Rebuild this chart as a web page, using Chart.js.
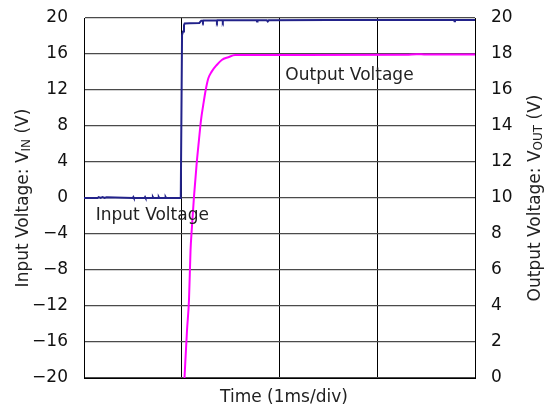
<!DOCTYPE html>
<html>
<head>
<meta charset="utf-8">
<script src="https://cdn.jsdelivr.net/npm/chart.js@4.4.1/dist/chart.umd.min.js"></script>
<style>
html,body{margin:0;padding:0;background:#fff;}
#wrap{width:550px;height:415px;position:relative;}
</style>
</head>
<body>
<div id="wrap"><canvas id="c" width="550" height="415"></canvas></div>
<script>
// ---- Data (time in ms, voltage in V) ----
const inputTime    = [0, 0.14, 0.15, 0.17, 0.19, 0.21, 0.23, 0.5, 0.505, 0.51, 0.62, 0.625, 0.63, 0.70, 0.705, 0.71, 0.76, 0.765, 0.77, 0.83, 0.835, 0.84, 0.88, 0.885, 0.89, 0.99, 1.003, 1.013, 1.023, 1.03, 1.084, 1.18, 1.20, 1.212, 1.217, 1.222, 1.355, 1.36, 1.365, 1.415, 1.42, 1.425, 1.765, 1.77, 1.775, 1.87, 1.88, 1.89, 2.5, 3.785, 3.79, 3.795, 4.0];
const inputVoltage = [0, 0, 0.1, 0, 0.1, 0, 0.08, 0, 0.1, 0, 0, 0.1, 0, 0, 0.1, 0, 0, 0.1, 0, 0, 0.1, 0, 0, 0.1, 0, 0, 18.1, 18.5, 19.2, 19.4, 19.41, 19.45, 19.7, 19.72, 19.6, 19.72, 19.75, 19.6, 19.75, 19.75, 19.6, 19.75, 19.75, 19.6, 19.75, 19.75, 19.62, 19.75, 19.78, 19.78, 19.65, 19.78, 19.78];

const outputTime    = [1.028, 1.054, 1.074, 1.090, 1.102, 1.125, 1.153, 1.176, 1.197, 1.220, 1.245, 1.272, 1.306, 1.358, 1.409, 1.476, 1.545, 2.2, 3.3, 3.4, 3.5, 4.0];
const outputVoltage = [0, 2.67, 4.33, 7.11, 8.22, 10.06, 11.94, 13.22, 14.33, 15.17, 16.0, 16.65, 17.02, 17.39, 17.67, 17.82, 17.94, 17.95, 17.96, 17.99, 17.97, 17.97];

const leftTickValues  = [-20, -16, -12, -8, -4, 0, 4, 8, 12, 16, 20];
const rightTickValues = [0, 2, 4, 6, 8, 10, 12, 14, 16, 18, 20];
const timeGridValues  = [0, 1, 2, 3, 4];

const seriesNames = ['Input Voltage', 'Output Voltage'];

// ---- Chart ----
const FONT = "'DejaVu Sans', sans-serif";

function fmt(v){ return v < 0 ? '\u2212' + Math.abs(v) : String(v); }

function drawRich(ctx, parts, cx, cy, angle){
  ctx.save();
  ctx.translate(cx, cy);
  ctx.rotate(angle);
  ctx.textBaseline = 'alphabetic';
  ctx.fillStyle = '#222';
  let total = 0;
  parts.forEach(p => { ctx.font = p.size + 'px ' + FONT; p.w = ctx.measureText(p.t).width; total += p.w; });
  let x = -total / 2;
  parts.forEach(p => {
    ctx.font = p.size + 'px ' + FONT;
    ctx.fillText(p.t, x, 6 + (p.dy || 0));
    x += p.w;
  });
  ctx.restore();
}

const textPlugin = {
  id: 'textPlugin',
  afterDraw(chart){
    const ctx = chart.ctx;
    const xs = chart.scales.x, yl = chart.scales.yL;
    ctx.save();
    ctx.font = '17px ' + FONT;
    ctx.fillStyle = '#222';
    ctx.textBaseline = 'alphabetic';
    ctx.textAlign = 'left';
    ctx.fillText(seriesNames[0], xs.getPixelForValue(0.12), yl.getPixelForValue(-2.45));
    ctx.fillText(seriesNames[1], xs.getPixelForValue(2.06), yl.getPixelForValue(13.1));
    ctx.restore();
    const midY = (chart.chartArea.top + chart.chartArea.bottom) / 2;
    drawRich(ctx, [{t:'Input Voltage: V', size:17},{t:'IN', size:12, dy:2},{t:' (V)', size:17}], 22, midY, -Math.PI/2);
    drawRich(ctx, [{t:'Output Voltage: V', size:17},{t:'OUT', size:12, dy:2},{t:' (V)', size:17}], 534, midY, -Math.PI/2);
    drawRich(ctx, [{t:'Time (1ms/div)', size:17}], 284, 396, 0);
  }
};

function fixY(width){
  return function(s){ s.width = width; s.paddingTop = 0; s.paddingBottom = 0; };
}

new Chart(document.getElementById('c'), {
  type: 'line',
  data: {
    datasets: [
      {
        label: seriesNames[0],
        data: inputTime.map((t, i) => ({x: t, y: inputVoltage[i]})),
        yAxisID: 'yL',
        borderColor: '#22228a',
        borderWidth: 2,
        pointRadius: 0,
        tension: 0
      },
      {
        label: seriesNames[1],
        data: outputTime.map((t, i) => ({x: t, y: outputVoltage[i]})),
        yAxisID: 'yR',
        borderColor: '#ff00ff',
        borderWidth: 2,
        pointRadius: 0,
        cubicInterpolationMode: 'monotone'
      }
    ]
  },
  options: {
    responsive: false,
    animation: false,
    devicePixelRatio: 1,
    layout: { padding: { top: 18, left: 0, right: 0, bottom: 0 } },
    plugins: { legend: { display: false }, tooltip: { enabled: false } },
    scales: {
      x: {
        type: 'linear', min: 0, max: 4,
        afterBuildTicks(s){ s.ticks = timeGridValues.map(v => ({value: v})); },
        afterFit(s){ s.height = 37; s.paddingLeft = 0; s.paddingRight = 0; },
        ticks: { display: false },
        grid: { color: '#000', lineWidth: 1, drawTicks: false },
        border: { color: '#000', width: 1 }
      },
      yL: {
        type: 'linear', position: 'left', min: -20, max: 20,
        afterBuildTicks(s){ s.ticks = leftTickValues.map(v => ({value: v})); },
        afterFit: fixY(84),
        ticks: { color: '#111', font: { family: FONT, size: 17 }, padding: 16, callback: v => fmt(v) },
        grid: { color: '#4a4a4a', lineWidth: 1.3, drawTicks: false },
        border: { color: '#000', width: 1 }
      },
      yR: {
        type: 'linear', position: 'right', min: 0, max: 20,
        afterBuildTicks(s){ s.ticks = rightTickValues.map(v => ({value: v})); },
        afterFit: fixY(75),
        ticks: { color: '#111', font: { family: FONT, size: 17 }, padding: 16, callback: v => fmt(v) },
        grid: { display: false, drawTicks: false },
        border: { color: '#000', width: 1 }
      }
    }
  },
  plugins: [textPlugin]
});
</script>
</body>
</html>
